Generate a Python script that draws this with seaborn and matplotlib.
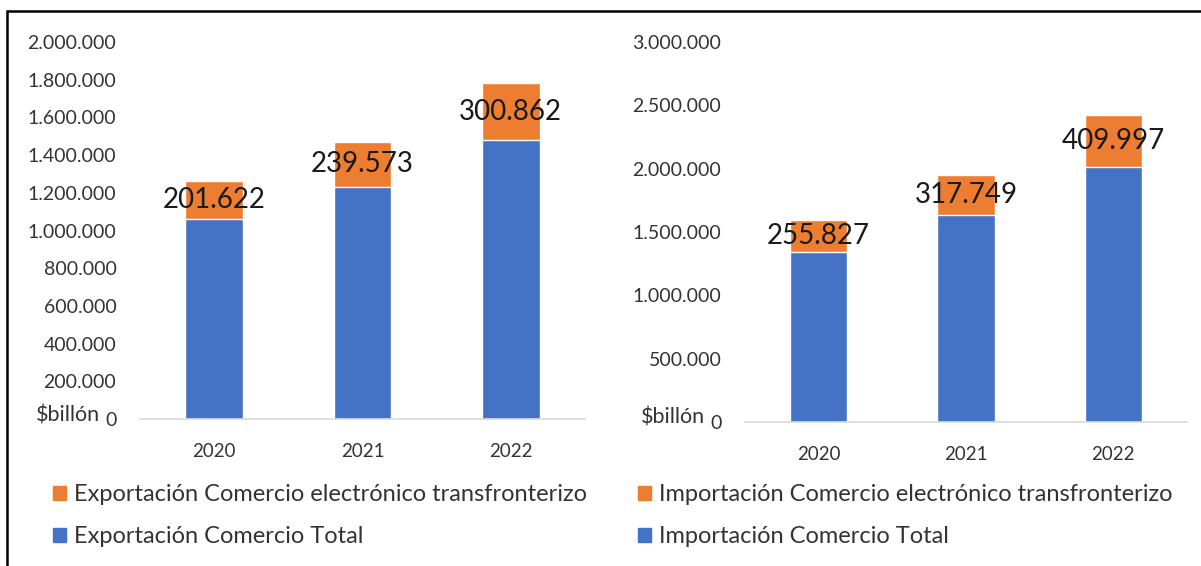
import pandas as pd
import seaborn as sns
import matplotlib.pyplot as plt
from matplotlib.patches import Patch
from matplotlib.lines import Line2D
from matplotlib.ticker import FuncFormatter, MultipleLocator

years = ["2020", "2021", "2022"]
export_total = [1062000, 1232000, 1480000]
export_ecom = [201622, 239573, 300862]
import_total = [1340000, 1635000, 2012000]
import_ecom = [255827, 317749, 409997]

BLUE = "#4472C4"
ORANGE = "#ED7D31"
TXT = "#333333"

sns.set_theme(style="white")
plt.rcParams["font.family"] = ["Lato", "DejaVu Sans"]


def dotted(v, pos=None):
    # miles con punto, como en el original
    return f"{int(round(v)):,}".replace(",", ".")


def draw_panel(ax, total, ecom, ymax, step):
    df = pd.DataFrame({"year": years, "total": total, "ecom": ecom})
    df["stack"] = df["total"] + df["ecom"]
    sns.barplot(data=df, x="year", y="stack", color=ORANGE, width=0.39,
                saturation=1, ax=ax)
    sns.barplot(data=df, x="year", y="total", color=BLUE, width=0.39,
                saturation=1, ax=ax)
    for i, row in df.iterrows():
        ax.text(i, row["total"] + row["ecom"] / 2, dotted(row["ecom"]),
                ha="center", va="center", fontsize=20, color="#1a1a1a")
    ax.set_xlim(-0.5, 2.5)
    ax.set_ylim(0, ymax)
    ax.yaxis.set_major_locator(MultipleLocator(step))
    ax.yaxis.set_major_formatter(FuncFormatter(dotted))
    ax.set_xlabel("")
    ax.set_ylabel("")
    for s in ["top", "right", "left"]:
        ax.spines[s].set_visible(False)
    ax.spines["bottom"].set_color("#D9D9D9")
    ax.spines["bottom"].set_linewidth(1.2)
    ax.tick_params(axis="y", length=0, pad=17, labelsize=14, labelcolor=TXT)
    ax.tick_params(axis="x", length=0, pad=17, labelsize=13.5, labelcolor=TXT)
    ax.annotate("$billón", xy=(0, 0), xycoords="axes fraction",
                xytext=(-40, 4), textcoords="offset pixels",
                ha="right", va="center", fontsize=15.5, color=TXT)


fig = plt.figure(figsize=(12.01, 5.66), dpi=100)
ax1 = fig.add_axes([140 / 1201, 1 - 419 / 566, 445 / 1201, 377 / 566])
ax2 = fig.add_axes([745 / 1201, 1 - 422 / 566, 442 / 1201, 380 / 566])

draw_panel(ax1, export_total, export_ecom, 2000000, 200000)
draw_panel(ax2, import_total, import_ecom, 3000000, 500000)

leg_kw = dict(loc="upper left", frameon=False, fontsize=17, handlelength=0.55,
              handleheight=0.55, handletextpad=0.35, labelspacing=0.9,
              borderaxespad=0, borderpad=0)
leg1 = fig.legend(handles=[Patch(color=ORANGE, label="Exportación Comercio electrónico transfronterizo"),
                           Patch(color=BLUE, label="Exportación Comercio Total")],
                  bbox_to_anchor=(53 / 1201, 1 - 484 / 566), **leg_kw)
leg2 = fig.legend(handles=[Patch(color=ORANGE, label="Importación Comercio electrónico transfronterizo"),
                           Patch(color=BLUE, label="Importación Comercio Total")],
                  bbox_to_anchor=(638 / 1201, 1 - 484 / 566), **leg_kw)
for leg in (leg1, leg2):
    for t in leg.get_texts():
        t.set_color(TXT)

# marco negro (solo arriba e izquierda visibles en el original)
fig.add_artist(Line2D([7 / 1201, 1], [1 - 11 / 566, 1 - 11 / 566],
                      transform=fig.transFigure, color="black", lw=1.8))
fig.add_artist(Line2D([7 / 1201, 7 / 1201], [0, 1 - 11 / 566],
                      transform=fig.transFigure, color="black", lw=1.8))

fig.savefig("out.png", dpi=100)
